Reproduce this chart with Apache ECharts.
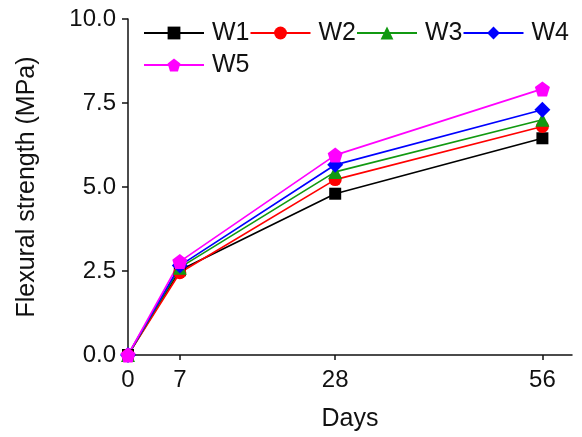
<!DOCTYPE html>
<html><head><meta charset="utf-8">
<script src="https://cdn.jsdelivr.net/npm/echarts@6/dist/echarts.min.js"></script>
<style>html,body{margin:0;padding:0;background:#fff}#c{width:582px;height:437px}</style>
</head><body><div id="c"></div>
<script>
const days = [0, 7, 28, 56];
const xTicks = [0, 7, 28, 56];
const yTicks = [0, 2.5, 5, 7.5, 10];
const seriesNames = ['W1', 'W2', 'W3', 'W4', 'W5'];
const W1 = [0, 2.52, 4.80, 6.45];
const W2 = [0, 2.45, 5.22, 6.80];
const W3 = [0, 2.60, 5.45, 7.00];
const W4 = [0, 2.66, 5.66, 7.30];
const W5 = [0, 2.78, 5.95, 7.92];
const values = [W1, W2, W3, W4, W5];
const colors = ['#000000', '#ff0000', '#119911', '#0000ff', '#ff00ff'];
const pentagon = 'path://M0,-1L0.951,-0.309L0.588,0.809L-0.588,0.809L-0.951,-0.309Z';
const symbols = ['rect', 'circle', 'triangle', 'diamond', pentagon];
const sizes = [12, 13, 14, 16, 15];

const chart = echarts.init(document.getElementById('c'), null, {renderer: 'canvas'});
const font = 'Liberation Sans, Arial, sans-serif';
chart.setOption({
  animation: false,
  backgroundColor: '#fff',
  grid: {left: 128, top: 19, right: 10, bottom: 82},
  legend: {
    left: 138, top: 12, width: 440,
    itemGap: 0, itemWidth: 60, itemHeight: 16,
    textStyle: {fontFamily: font, fontSize: 25, color: '#111', lineHeight: 32, padding: [0, 0, 0, 3]},
    data: seriesNames
  },
  xAxis: {
    type: 'value', min: 0, max: 60,
    name: 'Days', nameLocation: 'middle', nameGap: 52,
    nameTextStyle: {fontFamily: font, fontSize: 25, color: '#111'},
    axisLine: {show: true, lineStyle: {color: '#111', width: 1.5}},
    axisTick: {show: true, inside: false, length: 5, customValues: xTicks, lineStyle: {color: '#111', width: 1.5}},
    axisLabel: {customValues: xTicks, fontFamily: font, fontSize: 24, color: '#111', margin: 13},
    splitLine: {show: false}
  },
  yAxis: {
    type: 'value', min: 0, max: 10, interval: 2.5,
    name: 'Flexural strength (MPa)', nameLocation: 'middle', nameGap: 88,
    nameTextStyle: {fontFamily: font, fontSize: 25, color: '#111'},
    axisLine: {show: true, lineStyle: {color: '#111', width: 1.5}},
    axisTick: {show: true, inside: false, length: 6, lineStyle: {color: '#111', width: 1.5}},
    axisLabel: {fontFamily: font, fontSize: 24, color: '#111', margin: 12,
      formatter: v => v.toFixed(1)},
    splitLine: {show: false}
  },
  series: seriesNames.map((n, i) => ({
    name: n, type: 'line',
    data: days.map((d, j) => [d, values[i][j]]),
    symbol: symbols[i], symbolSize: sizes[i],
    lineStyle: {color: colors[i], width: 1.7},
    itemStyle: {color: colors[i]},
    clip: false
  }))
});
</script></body></html>
